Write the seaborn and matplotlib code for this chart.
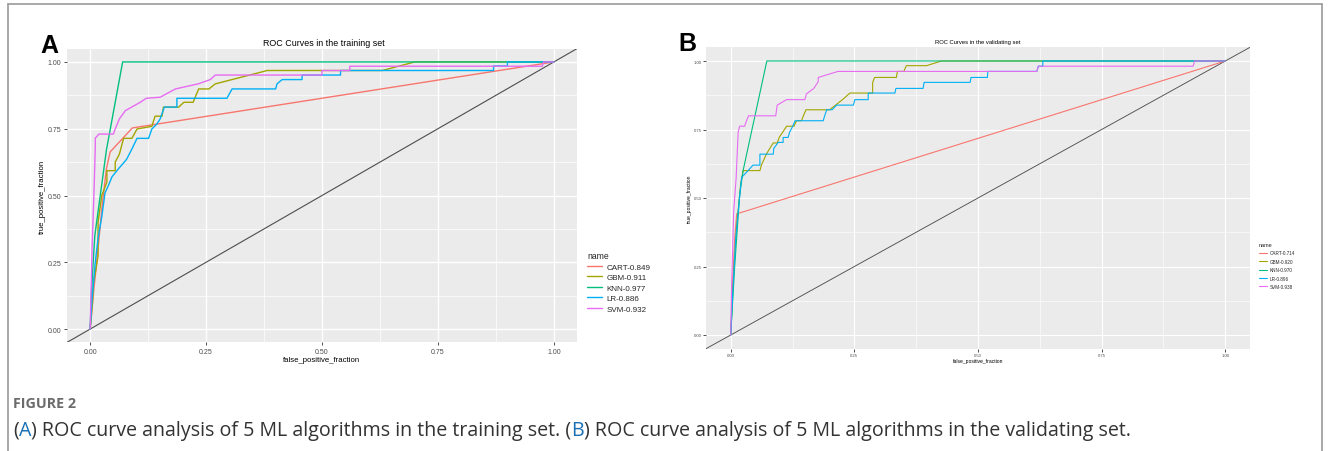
import numpy as np
import pandas as pd

import matplotlib
matplotlib.use("Agg")
import matplotlib.pyplot as plt
from matplotlib.lines import Line2D
import seaborn as sns

# ---- data ----
models = ["CART", "GBM", "KNN", "LR", "SVM"]
auc_train = ["0.849", "0.911", "0.977", "0.886", "0.932"]
auc_valid = ["0.714", "0.920", "0.970", "0.896", "0.938"]
gg_colors = ["#F8766D", "#A3A500", "#00BF7D", "#00B0F6", "#E76BF3"]
ticks = [0.0, 0.25, 0.5, 0.75, 1.0]

# training set
train_cart_fpr = [0, 0.008, 0.017, 0.025, 0.035, 0.043, 0.091, 1.0]
train_cart_tpr = [0, 0.15, 0.30, 0.45, 0.60, 0.663, 0.753, 1.0]
train_gbm_fpr = [0, 0.005, 0.007, 0.012, 0.017, 0.017, 0.025, 0.036, 0.036, 0.054, 0.054, 0.063,
                 0.072, 0.09, 0.101, 0.133, 0.14, 0.155, 0.158, 0.191, 0.202, 0.222, 0.234, 0.256,
                 0.27, 0.382, 0.63, 0.70, 1.0]
train_gbm_tpr = [0, 0.10, 0.175, 0.22, 0.275, 0.40, 0.50, 0.55, 0.593, 0.593, 0.625, 0.655,
                 0.714, 0.714, 0.749, 0.759, 0.797, 0.797, 0.831, 0.831, 0.849, 0.849, 0.899, 0.899,
                 0.918, 0.968, 0.968, 1.0, 1.0]
train_knn_fpr = [0, 0.003, 0.01, 0.035, 0.07, 1.0]
train_knn_tpr = [0, 0.15, 0.35, 0.67, 1.0, 1.0]
train_lr_fpr = [0, 0.004, 0.011, 0.017, 0.025, 0.032, 0.04, 0.047, 0.061, 0.076, 0.079, 0.09,
                0.101, 0.126, 0.133, 0.144, 0.151, 0.16, 0.187, 0.187, 0.295, 0.306, 0.40, 0.403,
                0.414, 0.457, 0.457, 0.54, 0.54, 0.87, 0.87, 0.90, 0.90, 1.0]
train_lr_tpr = [0, 0.11, 0.25, 0.34, 0.42, 0.51, 0.54, 0.57, 0.60, 0.63, 0.637, 0.674,
                0.714, 0.714, 0.749, 0.768, 0.787, 0.831, 0.831, 0.864, 0.864, 0.899, 0.899, 0.918,
                0.934, 0.934, 0.951, 0.951, 0.968, 0.968, 0.985, 0.985, 1.0, 1.0]
train_svm_fpr = [0, 0.002, 0.004, 0.008, 0.011, 0.011, 0.019, 0.05, 0.054, 0.063, 0.076, 0.108,
                 0.121, 0.151, 0.184, 0.233, 0.259, 0.27, 0.50, 0.50, 0.56, 0.56, 0.975, 0.978, 1.0]
train_svm_tpr = [0, 0.15, 0.30, 0.50, 0.68, 0.715, 0.73, 0.73, 0.749, 0.787, 0.818, 0.849,
                 0.864, 0.868, 0.899, 0.918, 0.934, 0.951, 0.951, 0.968, 0.968, 0.984, 0.984, 1.0, 1.0]

# validating set
valid_cart_fpr = [0, 0.004, 0.008, 0.012, 1.0]
valid_cart_tpr = [0, 0.20, 0.35, 0.442, 1.0]
valid_gbm_fpr = [0, 0.005, 0.012, 0.02, 0.025, 0.059, 0.062, 0.072, 0.079, 0.086, 0.094, 0.098,
                 0.113, 0.128, 0.133, 0.143, 0.152, 0.20, 0.226, 0.241, 0.287, 0.287, 0.291, 0.335,
                 0.337, 0.35, 0.355, 0.396, 0.426, 1.0]
valid_gbm_tpr = [0, 0.20, 0.40, 0.55, 0.60, 0.60, 0.62, 0.66, 0.681, 0.701, 0.701, 0.721,
                 0.762, 0.762, 0.782, 0.782, 0.822, 0.822, 0.859, 0.883, 0.883, 0.922, 0.94, 0.94,
                 0.962, 0.962, 0.983, 0.983, 1.0, 1.0]
valid_knn_fpr = [0, 0.008, 0.018, 0.025, 0.073, 1.0]
valid_knn_tpr = [0, 0.25, 0.51, 0.60, 1.0, 1.0]
valid_lr_fpr = [0, 0.004, 0.01, 0.015, 0.022, 0.035, 0.045, 0.059, 0.059, 0.086, 0.087, 0.096,
                0.106, 0.106, 0.116, 0.119, 0.126, 0.13, 0.187, 0.19, 0.194, 0.205, 0.214, 0.248,
                0.251, 0.278, 0.278, 0.332, 0.334, 0.389, 0.391, 0.484, 0.486, 0.519, 0.52, 0.619,
                0.622, 0.631, 0.631, 1.0]
valid_lr_tpr = [0, 0.15, 0.35, 0.45, 0.575, 0.60, 0.62, 0.62, 0.66, 0.66, 0.681, 0.703,
                0.703, 0.721, 0.721, 0.74, 0.764, 0.782, 0.782, 0.80, 0.822, 0.822, 0.839, 0.839,
                0.859, 0.859, 0.883, 0.883, 0.90, 0.90, 0.922, 0.922, 0.94, 0.94, 0.962, 0.962,
                0.981, 0.981, 1.0, 1.0]
valid_svm_fpr = [0, 0.002, 0.006, 0.011, 0.015, 0.018, 0.028, 0.032, 0.036, 0.091, 0.094, 0.113,
                 0.15, 0.153, 0.168, 0.177, 0.177, 0.217, 0.619, 0.622, 0.935, 0.938, 1.0]
valid_svm_tpr = [0, 0.20, 0.45, 0.575, 0.74, 0.762, 0.762, 0.782, 0.80, 0.80, 0.839, 0.859,
                 0.859, 0.88, 0.90, 0.925, 0.94, 0.962, 0.962, 0.981, 0.981, 1.0, 1.0]

train_curves = [(train_cart_fpr, train_cart_tpr), (train_gbm_fpr, train_gbm_tpr),
                (train_knn_fpr, train_knn_tpr), (train_lr_fpr, train_lr_tpr),
                (train_svm_fpr, train_svm_tpr)]
valid_curves = [(valid_cart_fpr, valid_cart_tpr), (valid_gbm_fpr, valid_gbm_tpr),
                (valid_knn_fpr, valid_knn_tpr), (valid_lr_fpr, valid_lr_tpr),
                (valid_svm_fpr, valid_svm_tpr)]

W, H = 1328, 452
sns.set_theme(style="darkgrid", rc={"axes.facecolor": "#EBEBEB", "grid.color": "white"})
plt.rcParams["font.family"] = ["Liberation Sans", "DejaVu Sans"]

fig = plt.figure(figsize=(W / 100, H / 100), dpi=100)
fig.patch.set_facecolor("white")


def fx(px):
    return px / W


def fy(py):
    return 1 - py / H


def long_table(curves, aucs):
    rows = []
    for m, a, (fpr, tpr) in zip(models, aucs, curves):
        for x, y in zip(fpr, tpr):
            rows.append({"name": f"{m}-{a}", "fpr": x, "tpr": y})
    return pd.DataFrame(rows)


def draw_panel(box, curves, aucs, title, fs, lw, letter, letter_xy, title_xy, leg_xy):
    # fs: dict of font sizes (title, label, tick, legend, legtitle)
    x0, x1, y0, y1 = box
    ax = fig.add_axes([fx(x0), fy(y1), fx(x1 - x0), (y1 - y0) / H])
    df = long_table(curves, aucs)
    names = [f"{m}-{a}" for m, a in zip(models, aucs)]
    ax.axline((0, 0), slope=1, color="#4D4D4D", lw=0.8 * lw, zorder=1)
    sns.lineplot(data=df, x="fpr", y="tpr", hue="name", hue_order=names,
                 palette=gg_colors, sort=False, estimator=None, lw=lw,
                 ax=ax, legend=False, zorder=2)
    ax.set_xlim(-0.05, 1.05)
    ax.set_ylim(-0.05, 1.05)
    ax.set_xticks(ticks)
    ax.set_yticks(ticks)
    ax.set_xticks([0.125, 0.375, 0.625, 0.875], minor=True)
    ax.set_yticks([0.125, 0.375, 0.625, 0.875], minor=True)
    ax.grid(True, which="major", color="white", lw=lw)
    ax.grid(True, which="minor", color="white", lw=0.5 * lw)
    ax.set_xticklabels([f"{t:.2f}" for t in ticks])
    ax.set_yticklabels([f"{t:.2f}" for t in ticks])
    ax.tick_params(axis="both", which="major", length=2.5 * lw, width=0.6, color="#333333",
                   labelsize=fs["tick"], labelcolor="#4D4D4D", pad=1.5 * lw,
                   bottom=True, left=True)
    ax.tick_params(axis="both", which="minor", length=0)
    for sp in ax.spines.values():
        sp.set_visible(False)
    ax.set_xlabel("false_positive_fraction", fontsize=fs["label"], color="black", labelpad=0.5)
    ax.set_ylabel("true_positive_fraction", fontsize=fs["label"], color="black", labelpad=1.0)
    fig.text(fx(title_xy[0]), fy(title_xy[1]), title, ha="center", va="baseline",
             fontsize=fs["title"], color="black")
    fig.text(fx(letter_xy[0]), fy(letter_xy[1]), letter, ha="left", va="baseline",
             fontsize=18, fontweight="bold", color="black")
    handles = [Line2D([0], [0], color=c, lw=lw) for c in gg_colors]
    leg = fig.legend(handles, names, title="name", loc="upper left",
                     bbox_to_anchor=(fx(leg_xy[0]), fy(leg_xy[1])), frameon=False,
                     fontsize=fs["legend"], title_fontsize=fs["legtitle"], handlelength=1.8,
                     handletextpad=0.6, labelspacing=fs["spacing"], borderaxespad=0)
    leg._legend_box.align = "left"
    return ax


fs_a = {"title": 6.4, "label": 5.6, "tick": 5.0, "legend": 5.8, "legtitle": 6.2, "spacing": 0.35}
fs_b = {"title": 4.2, "label": 3.6, "tick": 3.1, "legend": 3.3, "legtitle": 4.0, "spacing": 0.75}

draw_panel((67, 577, 49.6, 343.4), train_curves, auc_train, "ROC Curves in the training set",
           fs_a, 1.0, "A", (40, 53), (324, 46), (584, 249))
draw_panel((706, 1250, 48.3, 349.7), valid_curves, auc_valid, "ROC Curves in the validating set",
           fs_b, 0.8, "B", (678, 51), (978, 44), (1257, 241))

# figure frame
for xs, ys in [((8, 8), (5, 452)), ((8, 1322), (5, 5)), ((1322, 1322), (5, 452))]:
    fig.add_artist(Line2D([fx(x) for x in xs], [fy(y) for y in ys], color="#9A9A9A", lw=1.2))

# caption
cap_font = ["Open Sans", "DejaVu Sans"]
fig.text(fx(13), fy(404), "FIGURE 2", fontsize=10.3, fontweight="bold", color="#6B6B6B",
         family=cap_font, va="center", ha="left")

fig.canvas.draw()
renderer = fig.canvas.get_renderer()
parts = [("(", "#333333"), ("A", "#1B6FB5"),
         (") ROC curve analysis of 5 ML algorithms in the training set. (", "#333333"),
         ("B", "#1B6FB5"),
         (") ROC curve analysis of 5 ML algorithms in the validating set.", "#333333")]
xpos = fx(13)
for txt, col in parts:
    t = fig.text(xpos, fy(431), txt, fontsize=14.1, color=col, family=cap_font,
                 va="center", ha="left")
    bb = t.get_window_extent(renderer=renderer)
    xpos += bb.width / W

fig.savefig("out.png", dpi=100, facecolor="white")
plt.close(fig)
